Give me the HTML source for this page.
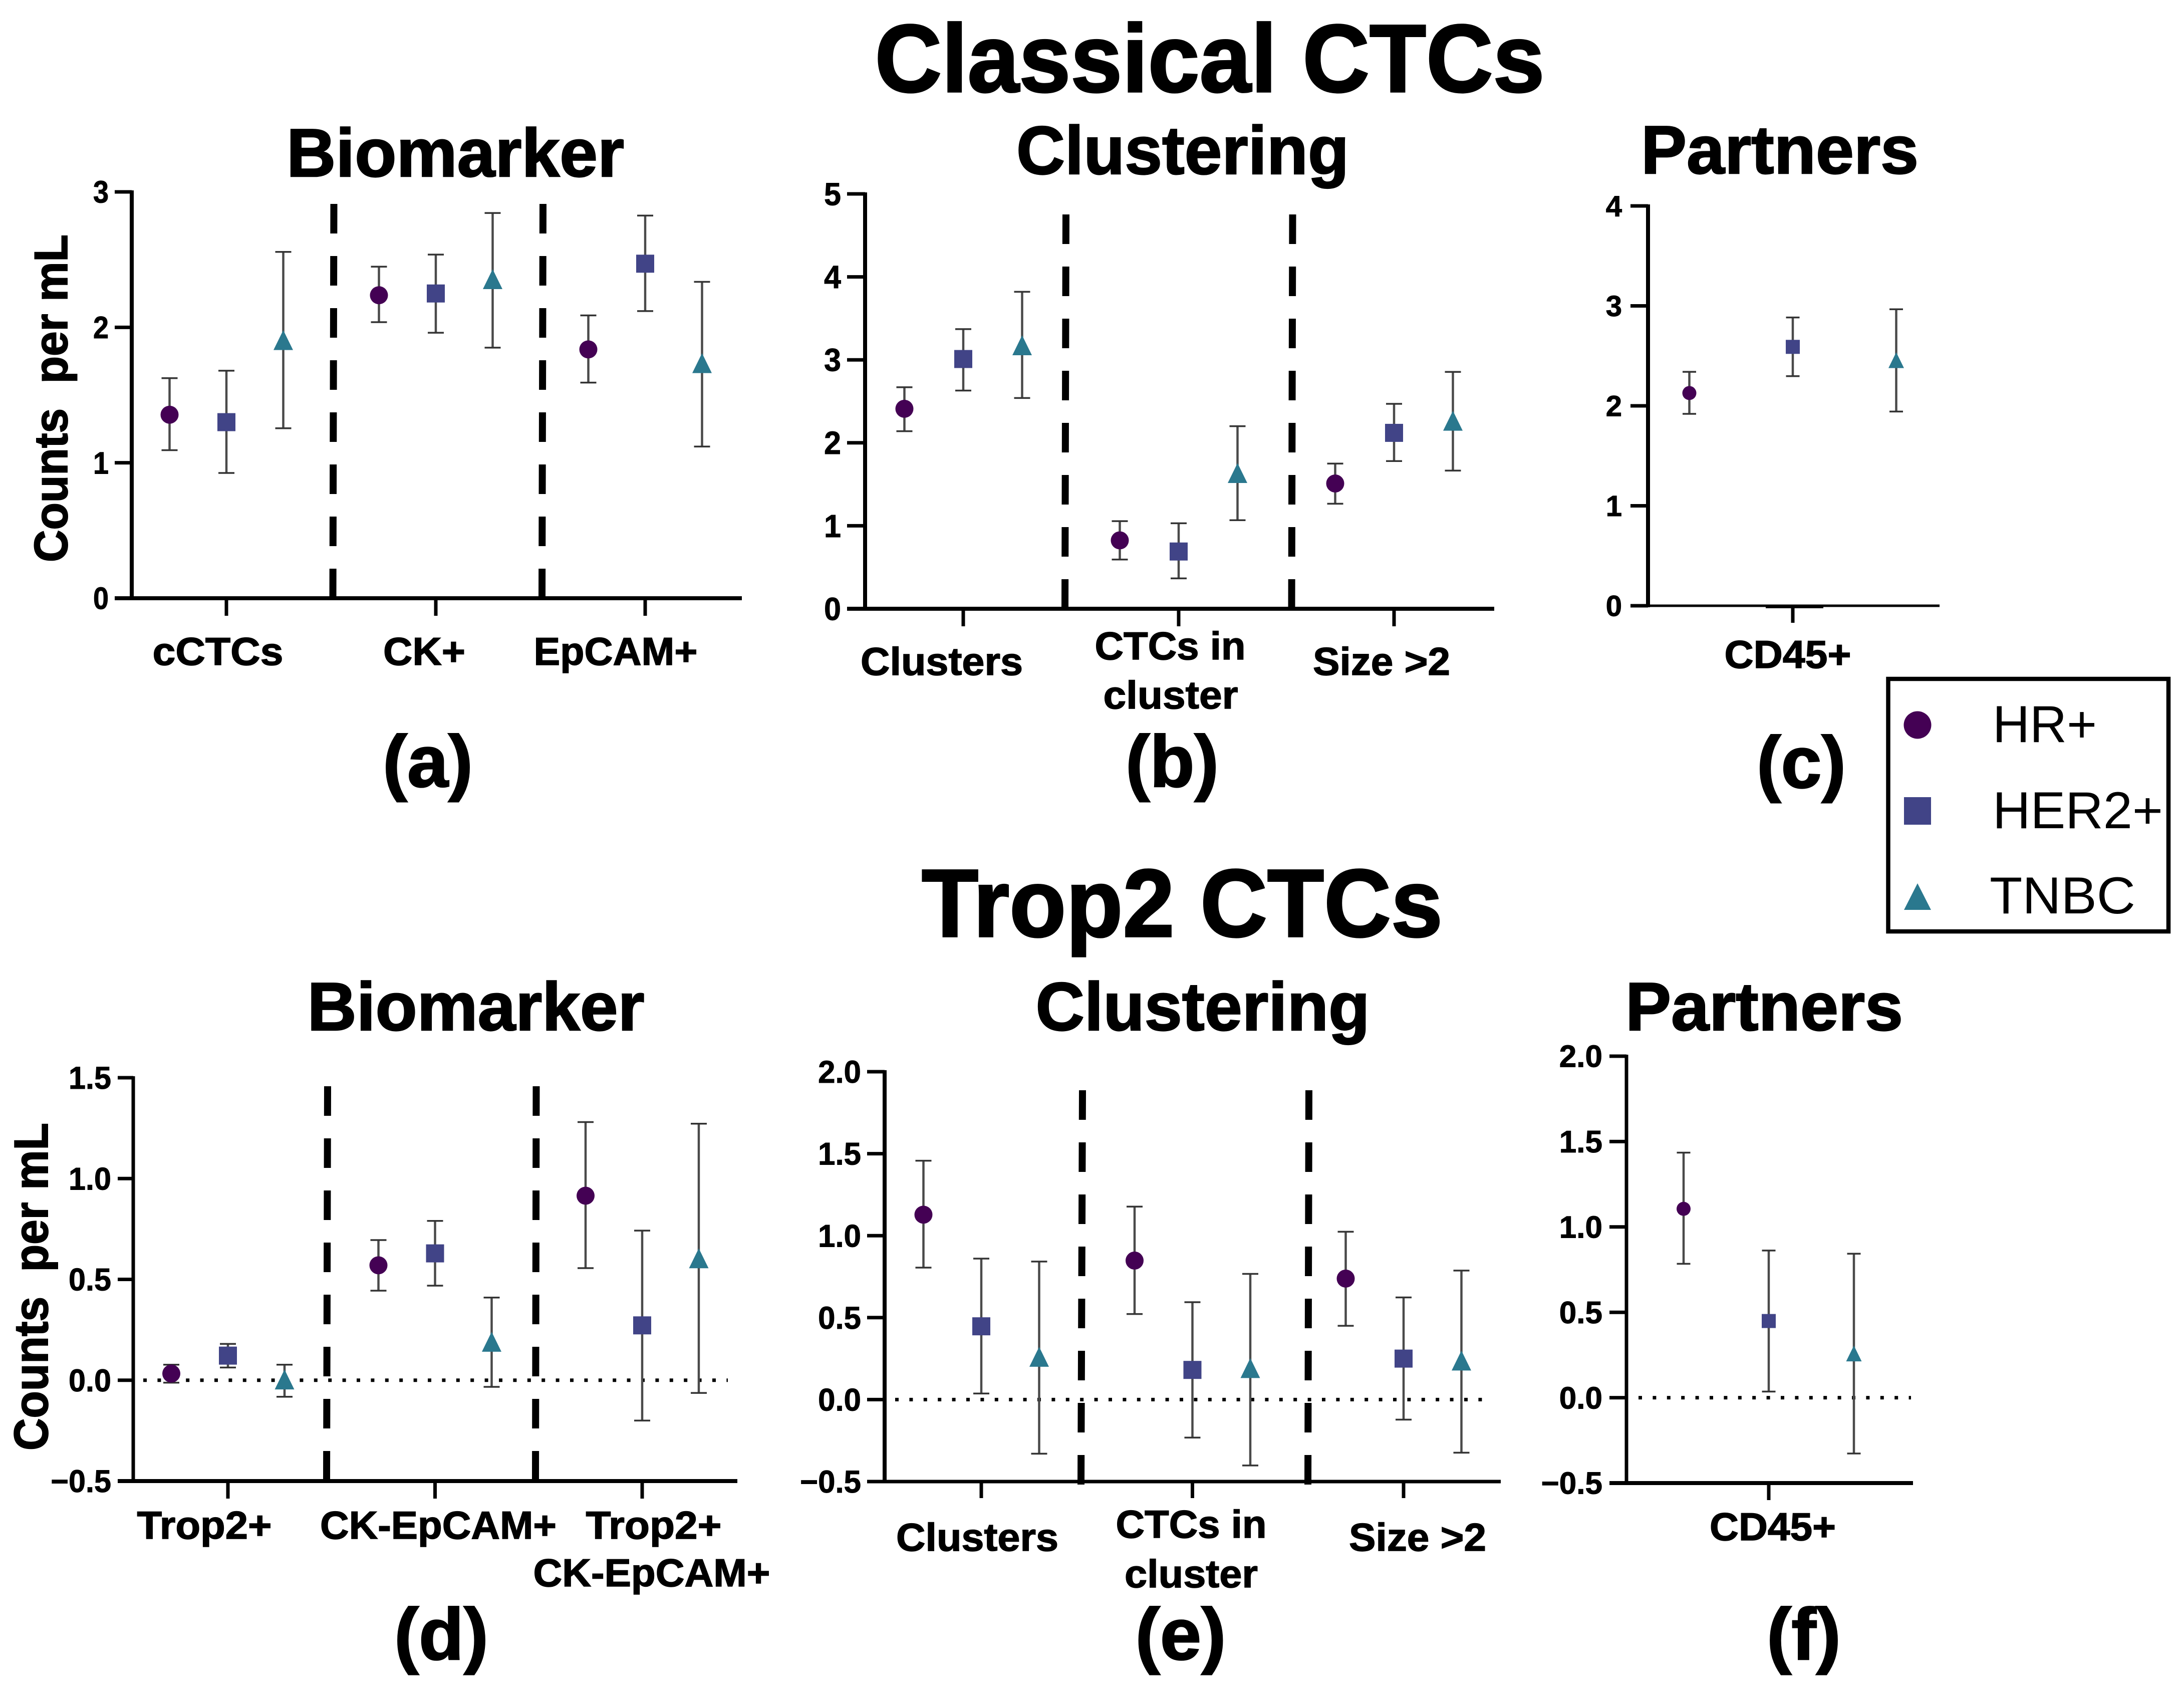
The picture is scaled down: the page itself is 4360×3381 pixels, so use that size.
<!DOCTYPE html>
<html lang="en">
<head>
<meta charset="utf-8">
<title>Classical and Trop2 CTC counts</title>
<style>
html,body{margin:0;padding:0;background:#fff;}
svg{display:block;}
text{font-family:"Liberation Sans",sans-serif;fill:#000;}
.b{font-weight:700;}
.main{stroke:#000;stroke-width:3.5px;}
.sub{stroke:#000;stroke-width:2.5px;}
.pre{white-space:pre;stroke:#000;stroke-width:2px;}
</style>
</head>
<body>
<svg id="figure" xmlns="http://www.w3.org/2000/svg" width="4360" height="3381" viewBox="0 0 4360 3381">
<rect x="0" y="0" width="4360" height="3381" fill="#fff"/>

<text class="b main" x="2415" y="183" font-size="192" text-anchor="middle" textLength="1337" lengthAdjust="spacingAndGlyphs">Classical CTCs</text>
<text class="b main" x="2360" y="1869" font-size="192" text-anchor="middle" textLength="1040" lengthAdjust="spacingAndGlyphs">Trop2 CTCs</text>

<text class="b sub" x="909" y="352" font-size="136" text-anchor="middle" textLength="674" lengthAdjust="spacingAndGlyphs">Biomarker</text>
<text class="b sub" x="2361" y="347" font-size="136" text-anchor="middle" textLength="664" lengthAdjust="spacingAndGlyphs">Clustering</text>
<text class="b sub" x="3553" y="346" font-size="136" text-anchor="middle" textLength="554" lengthAdjust="spacingAndGlyphs">Partners</text>
<text class="b sub" x="950" y="2056" font-size="136" text-anchor="middle" textLength="673" lengthAdjust="spacingAndGlyphs">Biomarker</text>
<text class="b sub" x="2401" y="2056" font-size="136" text-anchor="middle" textLength="667" lengthAdjust="spacingAndGlyphs">Clustering</text>
<text class="b sub" x="3522" y="2056" font-size="136" text-anchor="middle" textLength="554" lengthAdjust="spacingAndGlyphs">Partners</text>

<text class="b sub" x="854" y="1570" font-size="146" text-anchor="middle" textLength="180" lengthAdjust="spacingAndGlyphs">(a)</text>
<text class="b sub" x="2340" y="1570" font-size="146" text-anchor="middle" textLength="186" lengthAdjust="spacingAndGlyphs">(b)</text>
<text class="b sub" x="3596" y="1572" font-size="146" text-anchor="middle" textLength="178" lengthAdjust="spacingAndGlyphs">(c)</text>
<text class="b sub" x="881" y="3312" font-size="146" text-anchor="middle" textLength="188" lengthAdjust="spacingAndGlyphs">(d)</text>
<text class="b sub" x="2357" y="3312" font-size="146" text-anchor="middle" textLength="181" lengthAdjust="spacingAndGlyphs">(e)</text>
<text class="b sub" x="3601" y="3312" font-size="146" text-anchor="middle" textLength="148" lengthAdjust="spacingAndGlyphs">(f)</text>

<text class="b pre" transform="translate(134 795) rotate(-90)" x="0" y="0" font-size="94" text-anchor="middle" textLength="654" lengthAdjust="spacingAndGlyphs">Counts  per mL</text>
<text class="b pre" transform="translate(95 2568) rotate(-90)" x="0" y="0" font-size="96" text-anchor="middle" textLength="654" lengthAdjust="spacingAndGlyphs">Counts  per mL</text>

<g>
<rect x="3769.5" y="1355" width="559.5" height="504" fill="#fff" stroke="#000" stroke-width="8.5"/>
<circle cx="3828" cy="1447" r="27.5" fill="#440154"/>
<rect x="3801" y="1591" width="54" height="55" fill="#414487"/>
<polygon points="3828,1763 3855,1816 3801,1816" fill="#2a788e"/>
<text x="3978" y="1481" font-size="104" textLength="208" lengthAdjust="spacingAndGlyphs">HR+</text>
<text x="3978" y="1653" font-size="104" textLength="340" lengthAdjust="spacingAndGlyphs">HER2+</text>
<text x="3972" y="1823" font-size="104" textLength="291" lengthAdjust="spacingAndGlyphs">TNBC</text>
</g>
<g id="charts"></g>
</svg>

<script>
// ---- Chart data (rows: HR+, HER2+, TNBC; columns: categories) ----
const aCategories = [['cCTCs'], ['CK+'], ['EpCAM+']];
const aTickValues = [0, 1, 2, 3];
const aTickLabels = ['0', '1', '2', '3'];
const aMeans = [[1.355, 2.237, 1.837], [1.30, 2.25, 2.47], [1.89, 2.34, 1.72]];
const aUpper = [[1.625, 2.448, 2.088], [1.68, 2.537, 2.825], [2.557, 2.844, 2.336]];
const aLower = [[1.093, 2.038, 1.592], [0.925, 1.96, 2.12], [1.255, 1.85, 1.12]];

const bCategories = [['Clusters'], ['CTCs in', 'cluster'], ['Size >2']];
const bTickValues = [0, 1, 2, 3, 4, 5];
const bTickLabels = ['0', '1', '2', '3', '4', '5'];
const bMeans = [[2.41, 0.824, 1.51], [3.01, 0.69, 2.12], [3.15, 1.61, 2.24]];
const bUpper = [[2.67, 1.056, 1.75], [3.37, 1.03, 2.47], [3.82, 2.20, 2.855]];
const bLower = [[2.14, 0.593, 1.266], [2.63, 0.366, 1.78], [2.54, 1.067, 1.665]];

const cCategories = [['CD45+']];
const cTickValues = [0, 1, 2, 3, 4];
const cTickLabels = ['0', '1', '2', '3', '4'];
const cMeans = [[2.128], [2.59], [2.44]];
const cUpper = [[2.34], [2.884], [2.966]];
const cLower = [[1.92], [2.297], [1.943]];

const dCategories = [['Trop2+'], ['CK-EpCAM+'], ['Trop2+', 'CK-EpCAM+']];
const dTickValues = [-0.5, 0, 0.5, 1, 1.5];
const dTickLabels = ['\u22120.5', '0.0', '0.5', '1.0', '1.5'];
const dMeans = [[0.033, 0.57, 0.915], [0.122, 0.629, 0.272], [-0.007, 0.18, 0.594]];
const dUpper = [[0.077, 0.695, 1.28], [0.18, 0.79, 0.742], [0.077, 0.41, 1.272]];
const dLower = [[-0.012, 0.444, 0.556], [0.063, 0.469, -0.2], [-0.082, -0.033, -0.063]];

const eCategories = [['Clusters'], ['CTCs in', 'cluster'], ['Size >2']];
const eTickValues = [-0.5, 0, 0.5, 1, 1.5, 2];
const eTickLabels = ['\u22120.5', '0.0', '0.5', '1.0', '1.5', '2.0'];
const eMeans = [[1.128, 0.848, 0.738], [0.447, 0.181, 0.25], [0.248, 0.179, 0.225]];
const eUpper = [[1.457, 1.177, 1.024], [0.86, 0.594, 0.623], [0.842, 0.767, 0.787]];
const eLower = [[0.805, 0.522, 0.45], [0.037, -0.232, -0.122], [-0.33, -0.402, -0.324]];

const fCategories = [['CD45+']];
const fTickValues = [-0.5, 0, 0.5, 1, 1.5, 2];
const fTickLabels = ['\u22120.5', '0.0', '0.5', '1.0', '1.5', '2.0'];
const fMeans = [[1.106], [0.449], [0.249]];
const fUpper = [[1.435], [0.862], [0.843]];
const fLower = [[0.784], [0.036], [-0.327]];

const seriesKeys = ['hr', 'her2', 'tnbc'];
const seriesColors = ['#440154', '#414487', '#2a788e'];

// ---- Panel layout (geometry only) ----
const panels = [
  {id:'a', cats:aCategories, tv:aTickValues, tl:aTickLabels, m:aMeans, u:aUpper, l:aLower,
   xAxis:263, xEnd:1481, xTickStart:229, yTop:383, yBot:1194, yMin:0, yMax:3,
   cat0:452, catStep:418, serStep:113.5, ms:36, cap:32, axY:8, axX:8, tickLen:35,
   tickRight:217, tickFs:62, squeeze:0.9, seps:[[666.5,664.5],[1084,1082]], sepTop:407, sepEnd:1194,
   boxes:[[[435,1327,261]],[[847,1327,164]],[[1229,1327,327]]]},
  {id:'b', cats:bCategories, tv:bTickValues, tl:bTickLabels, m:bMeans, u:bUpper, l:bLower,
   xAxis:1727, xEnd:2983, xTickStart:1691, yTop:387, yBot:1215, yMin:0, yMax:5,
   cat0:1923, catStep:430, serStep:117.5, ms:36, cap:32, axY:8, axX:8, tickLen:35,
   tickRight:1679, tickFs:64, squeeze:0.95, seps:[[2128,2126],[2580.5,2578.5]], sepTop:428, sepEnd:1215,
   boxes:[[[1880,1347,324]],[[2336,1316,301],[2337,1414,269]],[[2758,1347,274]]]},
  {id:'c', cats:cCategories, tv:cTickValues, tl:cTickLabels, m:cMeans, u:cUpper, l:cLower,
   xAxis:3290, xEnd:3872, xTickStart:3255, yTop:411, yBot:1209, yMin:0, yMax:4,
   cat0:3579, catStep:0, serStep:206.5, ms:28, cap:27, axY:8, axX:5, tickLen:34,
   tickRight:3238, tickFs:58, squeeze:1.0, seps:[], sepTop:0, sepEnd:0, thick:[3525,3640],
   boxes:[[[3569,1333,253]]]},
  {id:'d', cats:dCategories, tv:dTickValues, tl:dTickLabels, m:dMeans, u:dUpper, l:dLower,
   xAxis:266, xEnd:1472, xTickStart:235, yTop:2151, yBot:2956, yMin:-0.5, yMax:1.5,
   cat0:455, catStep:413.5, serStep:113, ms:36, cap:32, axY:7, axX:8, tickLen:35,
   tickRight:222, tickFs:63, squeeze:0.97, seps:[[654,652],[1070.5,1069]], sepTop:2168, sepEnd:2956, dotFrom:286, dotTo:1453,
   boxes:[[[408,3071,269]],[[875,3071,472]],[[1305,3071,271],[1301,3166,473]]]},
  {id:'e', cats:eCategories, tv:eTickValues, tl:eTickLabels, m:eMeans, u:eUpper, l:eLower,
   xAxis:1766, xEnd:2996, xTickStart:1731, yTop:2139, yBot:2957, yMin:-0.5, yMax:2,
   cat0:1959, catStep:421.5, serStep:115.5, ms:36, cap:32, axY:8, axX:7, tickLen:33,
   tickRight:1719, tickFs:63, squeeze:0.98, seps:[[2161,2158],[2613,2611]], sepTop:2176, sepEnd:2965, dotFrom:1787, dotTo:2973,
   boxes:[[[1951,3095,324]],[[2378,3069,301],[2378,3168,266]],[[2830,3095,274]]]},
  {id:'f', cats:fCategories, tv:fTickValues, tl:fTickLabels, m:fMeans, u:fUpper, l:fLower,
   xAxis:3247, xEnd:3819, xTickStart:3213, yTop:2108, yBot:2960, yMin:-0.5, yMax:2,
   cat0:3531, catStep:0, serStep:170, ms:28, cap:27, axY:7, axX:8, tickLen:34,
   tickRight:3199, tickFs:62, squeeze:1.0, seps:[], sepTop:0, sepEnd:0, dotFrom:3271, dotTo:3815,
   boxes:[[[3539,3074,252]]]}
];

const NS = 'http://www.w3.org/2000/svg';
function mk(parent, tag, attrs) {
  const n = document.createElementNS(NS, tag);
  for (const k in attrs) n.setAttribute(k, attrs[k]);
  parent.appendChild(n);
  return n;
}

function drawPanel(p) {
  const root = document.getElementById('charts');
  const g = mk(root, 'g', {});
  
  

  const yScale = v => p.yTop + (p.yMax - v) / (p.yMax - p.yMin) * (p.yBot - p.yTop);
  const catX = c => p.cat0 + c * p.catStep;
  const xScale = (c, s) => catX(c) + (s - 1) * p.serStep;

  // zero reference line
  if (p.dotFrom !== undefined) {
    const z = mk(g, 'line', {x1:p.dotFrom, x2:p.dotTo, y1:yScale(0), y2:yScale(0), stroke:'#000', 'stroke-width':7, 'stroke-dasharray':'7 21.4'});
    
    
  }

  // error bars
  p.m.forEach((row, s) => {
    row.forEach((val, c) => {
      const x = xScale(c, s);
      const yu = yScale(p.u[s][c]);
      const yl = yScale(p.l[s][c]);
      const stem = mk(g, 'line', {x1:x, x2:x, y1:yu, y2:yl, stroke:'#4a4a4a', 'stroke-width':4.5});
      
      
      const capU = mk(g, 'line', {x1:x - p.cap / 2, x2:x + p.cap / 2, y1:yu, y2:yu, stroke:'#333', 'stroke-width':3.5});
      
      
      const capL = mk(g, 'line', {x1:x - p.cap / 2, x2:x + p.cap / 2, y1:yl, y2:yl, stroke:'#333', 'stroke-width':3.5});
      
      
    });
  });

  // markers
  p.m.forEach((row, s) => {
    row.forEach((val, c) => {
      const x = xScale(c, s);
      const y = yScale(val);
      const d = p.ms;
      let mark;
      if (s === 0) {
        mark = mk(g, 'circle', {cx:x, cy:y, r:d / 2, fill:seriesColors[s]});
      } else if (s === 1) {
        mark = mk(g, 'rect', {x:x - d / 2, y:y - d / 2, width:d, height:d, fill:seriesColors[s]});
      } else {
        const w = d + 3;
        mark = mk(g, 'polygon', {points:`${x},${y - w * 0.62} ${x + w / 2},${y + w * 0.4} ${x - w / 2},${y + w * 0.4}`, fill:seriesColors[s]});
      }
      
      
    });
  });

  // dashed separators
  p.seps.forEach(sx => {
    const sep = mk(g, 'line', {x1:sx[0], x2:sx[1], y1:p.sepTop, y2:p.sepEnd, stroke:'#000', 'stroke-width':14, 'stroke-dasharray':'59 45'});
    
    
  });

  // axes
  const ya = mk(g, 'line', {x1:p.xAxis, x2:p.xAxis, y1:p.yTop - 3, y2:p.yBot + 3, stroke:'#000', 'stroke-width':p.axY});
  
  
  const xa = mk(g, 'line', {x1:p.xTickStart, x2:p.xEnd, y1:p.yBot, y2:p.yBot, stroke:'#000', 'stroke-width':p.axX});
  
  
  if (p.thick) {
    const th = mk(g, 'line', {x1:p.thick[0], x2:p.thick[1], y1:p.yBot + 3, y2:p.yBot + 3, stroke:'#000', 'stroke-width':4});
    
    
  }

  // y ticks
  p.tv.forEach((v, i) => {
    const y = yScale(v);
    const t = mk(g, 'line', {x1:p.xTickStart, x2:p.xAxis, y1:y, y2:y, stroke:'#000', 'stroke-width':7});
    
    
    const lab = mk(g, 'text', {x:p.tickRight, y:y + p.tickFs * 0.35, 'font-size':p.tickFs, 'font-weight':700, 'text-anchor':'end', stroke:'#000', 'stroke-width':1});
    lab.textContent = p.tl[i];
    
    
    lab.setAttribute('lengthAdjust', 'spacingAndGlyphs');
    lab.setAttribute('textLength', lab.getComputedTextLength() * p.squeeze);
  });

  // x ticks and category labels
  p.cats.forEach((lines, c) => {
    const x = catX(c);
    const t = mk(g, 'line', {x1:x, x2:x, y1:p.yBot, y2:p.yBot + p.tickLen, stroke:'#000', 'stroke-width':7});
    
    
    lines.forEach((txt, li) => {
      const box = p.boxes[c][li];
      const lab = mk(g, 'text', {x:box[0], y:box[1], 'font-size':78, 'font-weight':700, 'text-anchor':'middle', textLength:box[2], lengthAdjust:'spacingAndGlyphs', stroke:'#000', 'stroke-width':1.5});
      lab.textContent = txt;
      
      
    });
  });
}

panels.forEach(drawPanel);
</script>
</body>
</html>
